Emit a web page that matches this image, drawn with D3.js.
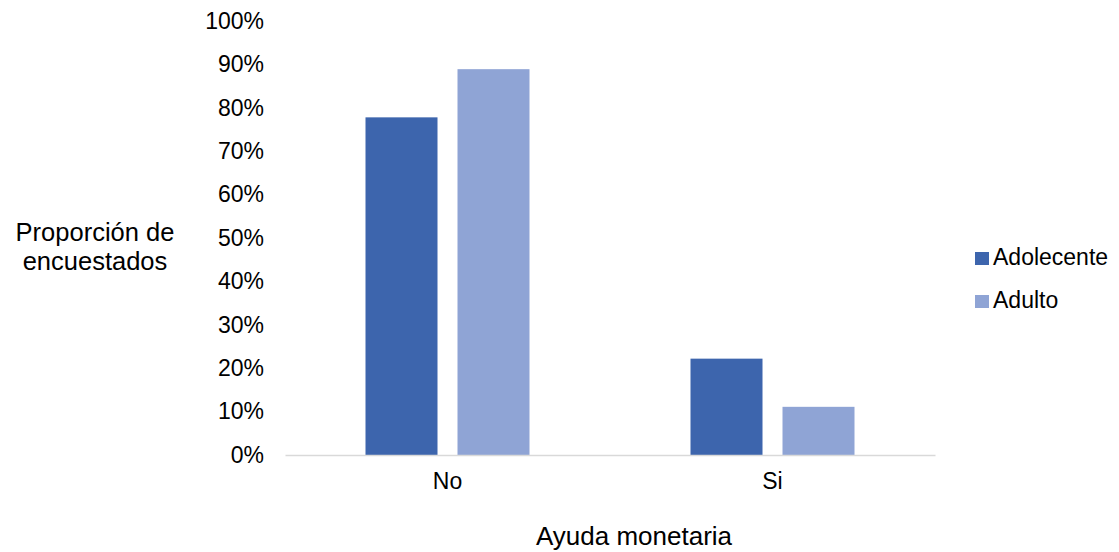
<!DOCTYPE html>
<html><head><meta charset="utf-8">
<script src="https://cdn.jsdelivr.net/npm/d3@7"></script>
<style>body{margin:0;background:#fff}svg{display:block;font-family:"Liberation Sans",Arial,sans-serif}</style>
</head><body>
<svg id="c" width="1119" height="552"></svg>
<script>
const categories = ["No", "Si"];
const seriesNames = ["Adolecente", "Adulto"];
const adolecente = [0.778, 0.222];
const adulto = [0.889, 0.111];
const yTicks = [0, 0.1, 0.2, 0.3, 0.4, 0.5, 0.6, 0.7, 0.8, 0.9, 1.0];
const colors = ["#3d65ad", "#8fa4d5"];

const svg = d3.select("#c");
const plotLeft = 285, plotRight = 935, plotTop = 21, plotBottom = 455;
const x0 = d3.scaleBand().domain(categories).range([plotLeft, plotRight]);
const x1 = d3.scaleBand().domain(seriesNames).range([0, x0.bandwidth()]).paddingInner(20/92).paddingOuter(0.875);
const y = d3.scaleLinear().domain([0, 1]).range([plotBottom, plotTop]);
const color = d3.scaleOrdinal().domain(seriesNames).range(colors);

const values = {Adolecente: adolecente, Adulto: adulto};
const data = categories.map((c, i) => ({cat: c, vals: seriesNames.map(s => ({s, v: values[s][i]}))}));

// y axis ticks (labels only)
const yAxis = d3.axisLeft(y).tickValues(yTicks).tickFormat(d3.format(".0%")).tickSize(0).tickPadding(0);
const gy = svg.append("g").attr("transform", `translate(264,0)`).call(yAxis);
gy.select(".domain").remove();
gy.selectAll("text").attr("font-size", 23).attr("fill", "#000").attr("font-family", "Liberation Sans, Arial, sans-serif");

// bars
const g = svg.append("g");
g.selectAll("g.cat").data(data).join("g").attr("class", "cat")
  .attr("transform", d => `translate(${x0(d.cat)},0)`)
  .selectAll("rect").data(d => d.vals).join("rect")
  .attr("x", d => x1(d.s)).attr("width", x1.bandwidth())
  .attr("y", d => y(d.v)).attr("height", d => y(0) - y(d.v))
  .attr("fill", d => color(d.s));

// x axis
const xAxis = d3.axisBottom(x0).tickSize(0).tickPadding(18);
const gx = svg.append("g").attr("transform", `translate(0,${plotBottom})`).call(xAxis);
gx.select(".domain").attr("stroke", "#d9d9d9").attr("stroke-width", 1.5);
gx.selectAll("text").attr("font-size", 23).attr("fill", "#000").attr("font-family", "Liberation Sans, Arial, sans-serif");

// axis titles
svg.append("text").attr("x", 95).attr("y", 241).attr("text-anchor", "middle").attr("font-size", 25.5).text("Proporción de");
svg.append("text").attr("x", 95).attr("y", 270).attr("text-anchor", "middle").attr("font-size", 25.5).text("encuestados");
svg.append("text").attr("x", 634).attr("y", 545).attr("text-anchor", "middle").attr("font-size", 26).text("Ayuda monetaria");

// legend
const lg = svg.append("g").attr("transform", "translate(975,252)");
const li = lg.selectAll("g").data(seriesNames).join("g").attr("transform", (d, i) => `translate(0,${i * 43})`);
li.append("rect").attr("width", 14).attr("height", 13).attr("fill", d => color(d));
li.append("text").attr("x", 18).attr("y", 13).attr("font-size", 23).text(d => d);
</script>
</body></html>
